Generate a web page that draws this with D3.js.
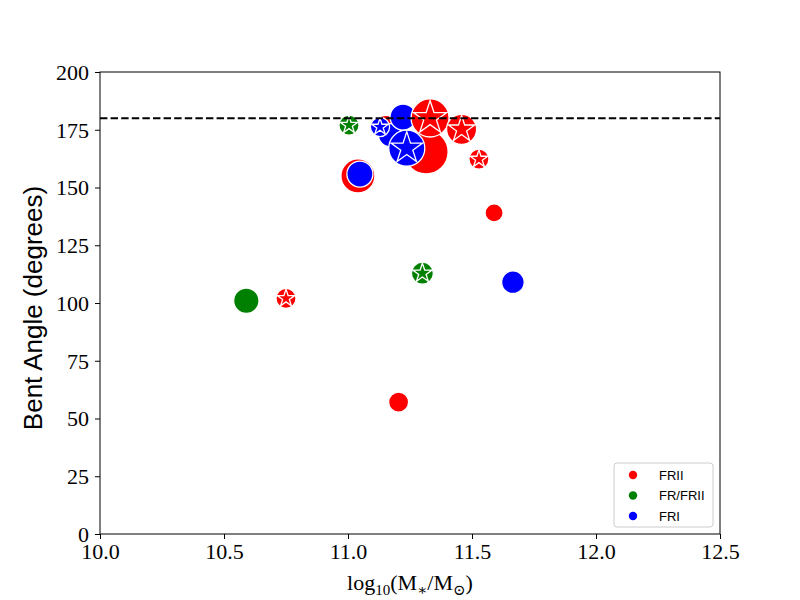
<!DOCTYPE html>
<html><head><meta charset="utf-8">
<script src="https://cdn.jsdelivr.net/npm/d3@7"></script>
<style>body{margin:0;background:#fff}</style>
</head><body>
<svg id="c" width="800" height="600"></svg>
<script>
// Data (draw order preserved)
const typeOf  = ["FRII","FRI","FRI","FRI","FRII","FRII","FRI","FRII","FRII","FR/FRII","FRII","FRI","FRII","FR/FRII","FRI","FRII","FR/FRII","FRII"];
const logMass = [11.153,11.169,11.222,11.129,11.315,11.331,11.237,11.458,11.528,11.004,11.040,11.048,11.589,11.300,11.665,10.750,10.590,11.204];
const bentAngle=[176.0,172.7,180.5,176.2,165.4,180.1,167.0,175.2,162.3,177.0,155.0,155.8,139.0,112.9,109.0,102.0,101.0,57.1];
const sizeVal = [298,274,350,190,1000,747,671,466,207,207,598,350,168,250,264,207,334,207];
const isStar  = [0,0,0,1,0,1,1,1,1,1,0,0,0,1,0,1,0,0];
const legendLabels = ["FRII","FR/FRII","FRI"];
const xTicks = [10.0,10.5,11.0,11.5,12.0,12.5];
const yTicks = [0,25,50,75,100,125,150,175,200];
const refAngle = 180;

const colors = {"FRII":"#ff0000","FR/FRII":"#008000","FRI":"#0000ff"};
const svg = d3.select("#c");
const L=100,R=720,T=72,B=534;
const x = d3.scaleLinear().domain([10,12.5]).range([L,R]);
const y = d3.scaleLinear().domain([0,200]).range([B,T]);
const rs = d3.scaleSqrt().domain([0,1000]).range([0,22]);

function starPath(r){
  const pts=[];
  for(let i=0;i<10;i++){
    const rr = i%2===0 ? r : r*0.381966;
    const a = -Math.PI/2 + i*Math.PI/5;
    pts.push([rr*Math.cos(a), rr*Math.sin(a)]);
  }
  return "M"+pts.map(p=>p[0].toFixed(2)+","+p[1].toFixed(2)).join("L")+"Z";
}

const pts = logMass.map((v,i)=>({x:v,y:bentAngle[i],s:sizeVal[i],t:typeOf[i],star:isStar[i]}));
const g = svg.append("g");
pts.forEach(d=>{
  const gg = g.append("g").attr("transform",`translate(${x(d.x)},${y(d.y)})`);
  const r = rs(d.s);
  gg.append("circle").attr("r",r).attr("fill",colors[d.t]).attr("stroke","#fff").attr("stroke-width",1.3);
  if(d.star){
    gg.append("path").attr("d",starPath(r*0.92)).attr("fill",colors[d.t]).attr("stroke","#fff").attr("stroke-width",1.3).attr("stroke-linejoin","miter");
  }
});

// dashed reference line
svg.append("line").attr("x1",L).attr("x2",R).attr("y1",y(refAngle)).attr("y2",y(refAngle))
  .attr("stroke","#000").attr("stroke-width",2).attr("stroke-dasharray","7.4,3.2");

// axes frame
svg.append("rect").attr("x",L).attr("y",T).attr("width",R-L).attr("height",B-T)
  .attr("fill","none").attr("stroke","#000").attr("stroke-width",1);

const serif = "'Liberation Serif', 'DejaVu Serif', serif";
const xa = svg.append("g").attr("transform",`translate(0,${B})`)
  .call(d3.axisBottom(x).tickValues(xTicks).tickFormat(d3.format(".1f")).tickSize(5).tickPadding(4));
const ya = svg.append("g").attr("transform",`translate(${L},0)`)
  .call(d3.axisLeft(y).tickValues(yTicks).tickFormat(d3.format("d")).tickSize(5).tickPadding(6));
[xa,ya].forEach(a=>{
  a.select(".domain").remove();
  a.selectAll("line").attr("stroke","#000");
  a.selectAll("text").attr("font-family",serif).attr("font-size",22).attr("fill","#000");
});
ya.selectAll("text").attr("dy","0.34em");

// y label
svg.append("text").attr("transform",`translate(42,${(T+B)/2+5}) rotate(-90)`)
  .attr("text-anchor","middle").attr("font-family","'Liberation Sans', Arial, sans-serif").attr("font-size",26)
  .text("Bent Angle (degrees)");

// x label
const xl = svg.append("text").attr("x",(L+R)/2).attr("y",590).attr("text-anchor","middle")
  .attr("font-family",serif).attr("font-size",22);
xl.append("tspan").text("log");
xl.append("tspan").attr("font-size",15).attr("dy",5).text("10");
xl.append("tspan").attr("dy",-5).text("(M");
xl.append("tspan").attr("font-size",15).attr("dy",5).text("∗");
xl.append("tspan").attr("dy",-5).text("/M");
xl.append("tspan").attr("font-size",15).attr("dy",5).text("⊙");
xl.append("tspan").attr("dy",-5).text(")");

// legend
const lg = svg.append("g");
lg.append("rect").attr("x",614).attr("y",463).attr("width",99).attr("height",64).attr("rx",3)
  .attr("fill","#fff").attr("fill-opacity",0.8).attr("stroke","#ccc").attr("stroke-width",1);
legendLabels.forEach((l,i)=>{
  const yy = 475 + i*20.5;
  lg.append("circle").attr("cx",633).attr("cy",yy).attr("r",4.2).attr("fill",colors[l]);
  lg.append("text").attr("x",659).attr("y",yy).attr("dy","0.36em").attr("font-family","'Liberation Sans', Arial, sans-serif")
    .attr("font-size",13).text(l);
});
</script>
</body></html>
